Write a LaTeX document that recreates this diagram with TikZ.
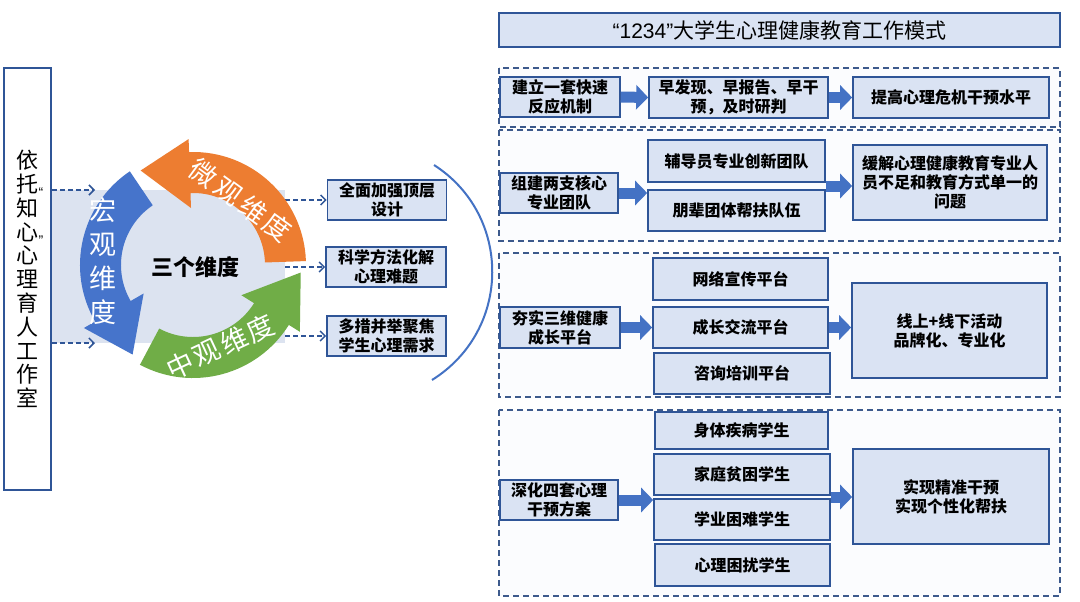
\documentclass[tikz,border=0pt]{standalone}
\usepackage{fontspec}
\setmainfont{Noto Sans CJK SC}
\newfontfamily\latinfont{Liberation Sans}
\usetikzlibrary{positioning}
\usetikzlibrary{arrows.meta,calc}

\definecolor{boxfill}{HTML}{DAE3F3}
\definecolor{boxline}{HTML}{2F5597}
\definecolor{frameline}{RGB}{61,90,140}
\definecolor{arrowblue}{HTML}{4472C4}
\definecolor{panelblue}{HTML}{DCE3F0}
\definecolor{ringblue}{HTML}{4674CB}
\definecolor{ringorange}{HTML}{ED7D31}
\definecolor{ringgreen}{HTML}{70AD47}

\tikzstyle{box} = [rectangle, draw=boxline, fill=boxfill, line width=1.6pt, align=center, inner sep=1pt, font=\bfseries\fontsize{16}{19}\selectfont]
\tikzstyle{secframe} = [draw=frameline, line width=1.5pt, dash pattern=on 6pt off 4pt, fill=boxfill!12]
\tikzstyle{blockarrow} = [draw=arrowblue, line width=11pt, -{Triangle[width=24pt,length=12pt]}]
\tikzstyle{dasharrow} = [draw=boxline, line width=1.5pt, dash pattern=on 5pt off 3pt, -{Straight Barb[length=5pt,width=10pt]}]
\tikzstyle{ringtext} = [text=white, align=center, inner sep=0pt, font=\fontsize{27}{34}\selectfont]

\newcommand{\smallquote}[1]{\rlap{\raisebox{-5pt}{\latinfont\fontsize{14}{14}\selectfont #1}}}

\begin{document}
\begin{tikzpicture}[x=1pt, y=-1pt]

    \path[fill=white, use as bounding box] (0,0) rectangle (1080,602);

    % left part: studio and the three dimensions
    \node[draw=boxline, fill=white, line width=1.8pt, minimum width=47pt, minimum height=422pt, align=center, inner sep=0pt, font=\fontsize{22}{23.8}\selectfont] (studio) at (27.5,279) {依\\托\smallquote{“}\\知\\心\smallquote{”}\\心\\理\\育\\人\\工\\作\\室};
    \node[fill=panelblue, minimum width=233pt, minimum height=153pt, inner sep=0pt] (panel) at (168.5,266.5) {};

    \coordinate (macroin1) at (95,190);
    \coordinate (macroin2) at (95,343);
    \draw[dasharrow] (studio.east |- macroin1) -- (macroin1);
    \draw[dasharrow] (studio.east |- macroin2) -- (macroin2);

    \node[box, minimum width=119pt, minimum height=40pt] (toplevel) at (387,200) {全面加强顶层\\设计};
    \node[box, minimum width=120pt, minimum height=40pt] (science) at (386,267) {科学方法化解\\心理难题};
    \node[box, minimum width=119pt, minimum height=40pt] (needs) at (386.5,336) {多措并举聚焦\\学生心理需求};

    \draw[dasharrow] (panel.east |- toplevel.west) -- (toplevel.west);
    \draw[dasharrow] (panel.east |- science.west) -- (science.west);
    \draw[dasharrow] (panel.east |- needs.west) -- (needs.west);

    % ring of three arrows
    \begin{scope}[shift={(193,265)}]
        \fill[ringblue] (124:113pt) arc[start angle=124, end angle=210, radius=113pt] -- (210:126pt) -- (236:108pt) -- (210:57pt) -- (210:72pt) arc[start angle=210, end angle=124, radius=72pt] -- cycle;
        \fill[ringgreen] (242:113pt) arc[start angle=242, end angle=328, radius=113pt] -- (328:126pt) -- (356:108pt) -- (328:57pt) -- (328:72pt) arc[start angle=328, end angle=242, radius=72pt] -- cycle;
        \fill[ringorange] (2:113pt) arc[start angle=2, end angle=92, radius=113pt] -- (92:126pt) -- (119:108pt) -- (92:57pt) -- (92:72pt) arc[start angle=92, end angle=2, radius=72pt] -- cycle;
    \end{scope}

    \node[ringtext] (macro) at (103,261) {宏\\观\\维\\度};
    \foreach \ch/\px/\py [count=\i] in {微/203/173, 观/228/192, 维/253/210, 度/277/227}
        \node[ringtext, rotate=-36] (micro\i) at (\px,\py) {\ch};
    \foreach \ch/\px/\py [count=\i] in {中/180/365, 观/207/353, 维/234/341, 度/260/328}
        \node[ringtext, rotate=25] (meso\i) at (\px,\py) {\ch};
    \node[font=\bfseries\fontsize{22}{26}\selectfont] (three) at (195,267) {三个维度};

    \draw[arrowblue, line width=2pt] (434,165) .. controls (512,215) and (512,330) .. (432,380);

    % right part: the 1234 model
    \node[box, line width=2pt, minimum width=561pt, minimum height=34pt, font=\fontsize{21}{24}\selectfont] (title) at (779.5,30) {{\latinfont “1234”}大学生心理健康教育工作模式};

    \draw[secframe] (499,68) rectangle (1060,127);
    \draw[secframe] (499,130) rectangle (1060,241);
    \draw[secframe] (499,253) rectangle (1060,397);
    \draw[secframe] (499,410) rectangle (1060,596);

    % one
    \node[box, minimum width=120pt, minimum height=40pt] (rapid) at (560,97) {建立一套快速\\反应机制};
    \node[box, minimum width=179pt, minimum height=41pt] (early) at (738.5,97.5) {早发现、早报告、早干\\预，及时研判};
    \node[box, minimum width=196pt, minimum height=41pt] (crisis) at (951,97.5) {提高心理危机干预水平};
    \draw[blockarrow] (rapid.east) -- (early.west);
    \draw[blockarrow] (early.east) -- (crisis.west);

    % two
    \node[box, minimum width=118pt, minimum height=40pt] (teams) at (559,193) {组建两支核心\\专业团队};
    \node[box, minimum width=177pt, minimum height=42pt] (tutor) at (736.5,161) {辅导员专业创新团队};
    \node[box, minimum width=177pt, minimum height=41pt] (peer) at (736.5,210.5) {朋辈团体帮扶队伍};
    \node[box, minimum width=194pt, minimum height=75pt] (relieve) at (950,182.5) {缓解心理健康教育专业人\\员不足和教育方式单一的\\问题};
    \coordinate (gap2) at ($(tutor.south east)!.5!(peer.north east)$);
    \draw[blockarrow] (teams.east) -- (teams.east -| tutor.west);
    \draw[blockarrow] (gap2) -- (gap2 -| relieve.west);

    % three
    \node[box, minimum width=120pt, minimum height=41pt] (platform) at (560,327.5) {夯实三维健康\\成长平台};
    \node[box, minimum width=175pt, minimum height=42pt] (network) at (740.5,279) {网络宣传平台};
    \node[box, minimum width=175pt, minimum height=41pt] (growth) at (740.5,327.5) {成长交流平台};
    \node[box, minimum width=176pt, minimum height=41pt] (consult) at (742,373.5) {咨询培训平台};
    \node[box, minimum width=195pt, minimum height=95pt] (brand) at (949.5,330.5) {线上+线下活动\\品牌化、专业化};
    \draw[blockarrow] (platform.east) -- (growth.west);
    \draw[blockarrow] (growth.east) -- (growth.east -| brand.west);

    % four
    \node[box, minimum width=118pt, minimum height=40pt] (scheme) at (559,500) {深化四套心理\\干预方案};
    \node[box, minimum width=173pt, minimum height=37pt] (illness) at (741.5,430.5) {身体疾病学生};
    \node[box, minimum width=176pt, minimum height=41pt] (poverty) at (742,474.5) {家庭贫困学生};
    \node[box, minimum width=176pt, minimum height=41pt] (study) at (742,519.5) {学业困难学生};
    \node[box, minimum width=175pt, minimum height=42pt] (distress) at (742.5,565) {心理困扰学生};
    \node[box, minimum width=196pt, minimum height=95pt] (precise) at (951,496.5) {实现精准干预\\实现个性化帮扶};
    \coordinate (gap4) at ($(poverty.south east)!.5!(study.north east)$);
    \draw[blockarrow] (scheme.east) -- (scheme.east -| poverty.west);
    \draw[blockarrow] (gap4) -- (gap4 -| precise.west);

\end{tikzpicture}
\end{document}
